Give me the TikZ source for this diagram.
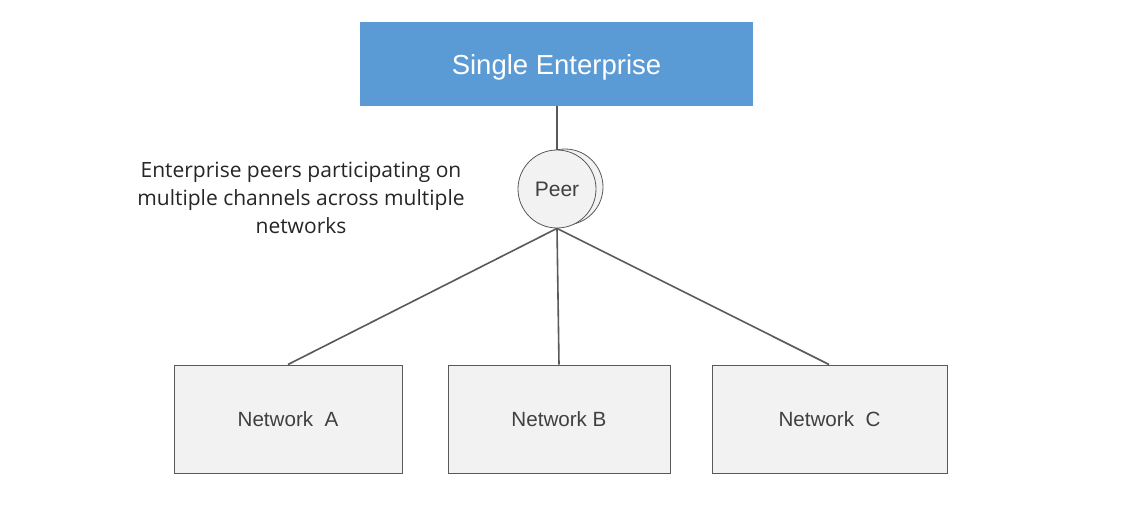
\documentclass[tikz,border=0pt]{standalone}
\usepackage{fontspec}
\setmainfont{Liberation Sans}
\newfontfamily\plexlike{Open Sans}
\definecolor{entblue}{HTML}{5B9BD5}
\definecolor{boxfill}{HTML}{F2F2F2}
\definecolor{edgegray}{HTML}{595959}
\begin{document}
\begin{tikzpicture}[x=1pt,y=-1pt,
  netbox/.style={draw=edgegray,line width=1pt,fill=boxfill,text=black!75,font=\fontsize{20.6}{24}\selectfont},
  conn/.style={draw=edgegray,line width=1.6pt}]
\useasboundingbox (0,0) rectangle (1138,517);
\fill[white] (0,0) rectangle (1138,517);
\node[fill=entblue,minimum width=393pt,minimum height=84pt,inner sep=0pt] (ent) at (556.5,64) {};
\node[text=white,font=\fontsize{27.5}{30}\selectfont,inner sep=0pt] (entlbl) at (556.5,67) {Single Enterprise};
\draw[edgegray,line width=0.8pt,fill=boxfill] (565,187) circle (38);
\node[circle,draw=edgegray,line width=0.8pt,fill=boxfill,minimum size=78pt,inner sep=0pt,font=\fontsize{21}{24}\selectfont,text=black!75] (peer) at (557,189) {Peer};
\node[netbox,minimum width=228pt,minimum height=108pt,inner sep=0pt] (na) at (288,419) {Network\ \ A};
\node[netbox,minimum width=222pt,minimum height=108pt,inner sep=0pt] (nb) at (559,419) {Network B};
\node[netbox,minimum width=235pt,minimum height=108pt,inner sep=0pt] (nc) at (829.5,419) {Network\ \ C};
\draw[conn] (ent.south -| peer.north) -- (peer.north);
\draw[conn] (peer.south) -- (na.north);
\draw[conn] (peer.south) -- (nb.north);
\draw[conn] (peer.south) -- (nc.north -| 829,0);
\node[font=\plexlike\fontsize{21}{28}\selectfont,align=center,text=black!85,inner sep=0pt] (lbl) at (301,198) {Enterprise peers participating on\\multiple channels across multiple\\networks};
\end{tikzpicture}
\end{document}
